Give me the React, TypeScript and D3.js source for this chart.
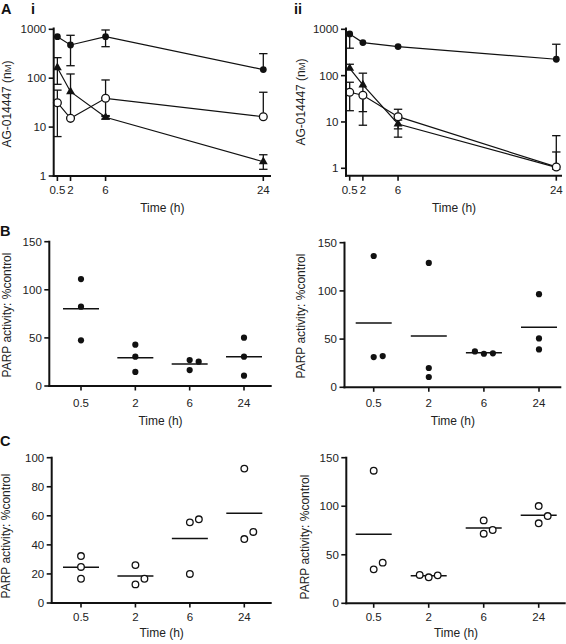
import React from 'react';
import * as d3 from 'd3';

const FONT = "'Liberation Sans', Arial, Helvetica, sans-serif";

// ---------- shared categories / ticks ----------
const times = [0.5, 2, 6, 24];
const timeLabels = ['0.5', '2', '6', '24'];
const logTicks = [1, 10, 100, 1000];
const logTickLabels = ['1', '10', '100', '1000'];

// ---------- Panel A(i): AG-014447 (nM), mean with error bars ----------
const aiFilled = [705, 478, 705, 150];
const aiFilledLo = [null, 180, 441, null];
const aiFilledHi = [null, 754, 968, 318];
const aiTriangle = [164, 53, 15.9, 1.96];
const aiTriangleLo = [75, 16, 14.6, 1.37];
const aiTriangleHi = [263, 122, 17.2, 2.72];
const aiOpen = [31.5, 15.1, 38.8, 16.3];
const aiOpenLo = [6.4, null, 16.5, null];
const aiOpenHi = [57, null, 92, 51.6];

// ---------- Panel A(ii) ----------
const aiiFilled = [795, 516, 423, 226];
const aiiFilledLo = [391, null, null, null];
const aiiFilledHi = [null, null, null, 476];
const aiiTriangle = [144, 63, 9.05, 1.05];
const aiiTriangleLo = [null, 8.5, 7.1, null];
const aiiTriangleHi = [176, 113, 11, 2.25];
const aiiOpen = [43.8, 37.7, 13, 1.07];
const aiiOpenLo = [17.5, 16.7, 4.7, null];
const aiiOpenHi = [72, null, 18.8, 5.06];

// ---------- Panel B(i): PARP activity %control (filled) ----------
const bi05 = [111.2, 82.5, 47.5];
const bi2 = [43, 30.5, 14.6];
const bi6 = [27, 25.3, 16.6];
const bi24 = [50.2, 30.5, 10.7];

// ---------- Panel B(ii) ----------
const bii05 = [136.2, 31.4, 32.4];
const bii2 = [129, 20, 10.7];
const bii6 = [34.8, 35.2, 37.2];
const bii24 = [96.6, 50.7, 39.3];

// ---------- Panel C(i): (open) ----------
const ci05 = [32.3, 24.8, 16.7];
const ci2 = [26.1, 12.8, 16.7];
const ci6 = [55.5, 57.6, 20];
const ci24 = [92.5, 44, 48.9];

// ---------- Panel C(ii) ----------
const cii05 = [136.6, 35, 41.9];
const cii2 = [26.8, 28.8, 29.2];
const cii6 = [85.4, 71.7, 75.5];
const cii24 = [100.2, 82.4, 89.9];

const ticksB = [0, 50, 100, 150];
const ticksCi = [0, 20, 40, 60, 80, 100];
const ticksCii = [0, 50, 100, 150];

type Marker = 'filled' | 'open' | 'triangle';
type Series = { values: number[]; lo: (number | null)[]; hi: (number | null)[]; marker: Marker };

const seriesAi: Series[] = [
  { values: aiFilled, lo: aiFilledLo, hi: aiFilledHi, marker: 'filled' },
  { values: aiTriangle, lo: aiTriangleLo, hi: aiTriangleHi, marker: 'triangle' },
  { values: aiOpen, lo: aiOpenLo, hi: aiOpenHi, marker: 'open' },
];
const seriesAii: Series[] = [
  { values: aiiFilled, lo: aiiFilledLo, hi: aiiFilledHi, marker: 'filled' },
  { values: aiiTriangle, lo: aiiTriangleLo, hi: aiiTriangleHi, marker: 'triangle' },
  { values: aiiOpen, lo: aiiOpenLo, hi: aiiOpenHi, marker: 'open' },
];

const TICK_FS = 11.5;
const LABEL_FS = 12;

function LogPanel(props: {
  left: number; right: number; top: number; bottom: number;
  x0: number; x24: number; y1: number; y1000: number;
  series: Series[]; tickBase: number; timeBase: number;
  ylabX: number; ylabY: number;
}) {
  const { left, right, top, bottom, x0, x24, y1, y1000, series } = props;
  const x = d3.scaleLinear().domain([0, 24]).range([x0, x24]);
  const y = d3.scaleLog().domain([1, 1000]).range([y1, y1000]);
  const line = d3.line<number>().x((_, i) => x(times[i])).y((v) => y(v));
  const tri = d3.symbol().type(d3.symbolTriangle).size(34)();
  const cap = 4.2;
  return (
    <g>
      {series.map((s, si) => (
        <path key={'l' + si} d={line(s.values) || ''} fill="none" stroke="#111" strokeWidth={1.2} />
      ))}
      {series.map((s, si) =>
        s.values.map((v, i) => {
          const lo = s.lo[i];
          const hi = s.hi[i];
          if (lo == null && hi == null) return null;
          const cx = x(times[i]);
          const ya = y(lo ?? v);
          const yb = y(hi ?? v);
          return (
            <g key={'e' + si + '-' + i} stroke="#111" strokeWidth={1.3}>
              <line x1={cx} x2={cx} y1={ya} y2={yb} />
              {lo != null && <line x1={cx - cap} x2={cx + cap} y1={ya} y2={ya} />}
              {hi != null && <line x1={cx - cap} x2={cx + cap} y1={yb} y2={yb} />}
            </g>
          );
        })
      )}
      {series.map((s, si) =>
        s.values.map((v, i) => {
          const cx = x(times[i]);
          const cy = y(v);
          if (s.marker === 'filled') return <circle key={'m' + si + i} cx={cx} cy={cy} r={3.4} fill="#111" />;
          if (s.marker === 'open')
            return <circle key={'m' + si + i} cx={cx} cy={cy} r={3.9} fill="#fff" stroke="#111" strokeWidth={1.3} />;
          return <path key={'m' + si + i} d={tri || ''} transform={`translate(${cx},${cy})`} fill="#111" />;
        })
      )}
      {/* axes */}
      <line x1={left} x2={left} y1={bottom + 1} y2={top} stroke="#111" strokeWidth={2} />
      <line x1={left - 1} x2={right} y1={bottom} y2={bottom} stroke="#111" strokeWidth={2} />
      {logTicks.map((t, i) => (
        <g key={'yt' + i}>
          <line x1={left - 5} x2={left} y1={y(t)} y2={y(t)} stroke="#111" strokeWidth={1.6} />
          <text x={left - 7.5} y={y(t) + 4} textAnchor="end" fontSize={TICK_FS} fontFamily={FONT} fill="#222">
            {logTickLabels[i]}
          </text>
        </g>
      ))}
      {times.map((t, i) => (
        <g key={'xt' + i}>
          <line x1={x(t)} x2={x(t)} y1={bottom} y2={bottom + 5} stroke="#111" strokeWidth={1.6} />
          <text x={x(t)} y={props.tickBase} textAnchor="middle" fontSize={TICK_FS} fontFamily={FONT} fill="#222">
            {timeLabels[i]}
          </text>
        </g>
      ))}
      <text x={(left + right) / 2} y={props.timeBase} textAnchor="middle" fontSize={LABEL_FS} fontFamily={FONT} fill="#222">
        Time (h)
      </text>
      <text
        transform={`translate(${props.ylabX},${props.ylabY}) rotate(-90)`}
        textAnchor="middle"
        fontSize={LABEL_FS}
        fontFamily={FONT}
        fill="#222"
      >
        AG-014447 (n<tspan fontSize={LABEL_FS * 0.78}>M</tspan>)
      </text>
    </g>
  );
}

function dodge(vals: number[], py: (v: number) => number, thr: number): number[] {
  const placed: { slot: number; p: number }[] = [];
  return vals.map((v) => {
    const p = py(v);
    for (const s of [0, 1, -1, 2, -2]) {
      if (!placed.some((q) => q.slot === s && Math.abs(q.p - p) < thr)) {
        placed.push({ slot: s, p });
        return s;
      }
    }
    return 0;
  });
}

function ScatterPanel(props: {
  left: number; right: number; y0: number; yMaxPx: number; yMax: number; ticks: number[];
  catFirst: number; catLast: number; groups: number[][]; open: boolean;
  tickBase: number; timeBase: number; ylabX: number; ylabY: number;
}) {
  const { left, right, y0, yMaxPx, yMax, ticks, groups, open } = props;
  const y = d3.scaleLinear().domain([0, yMax]).range([y0, yMaxPx]);
  const x = d3.scalePoint<string>().domain(timeLabels).range([props.catFirst, props.catLast]);
  const step = 9;
  const r = open ? 3.3 : 3.1;
  const thr = open ? 8 : 6.5;
  return (
    <g>
      {groups.map((g, gi) => {
        const cx = x(timeLabels[gi]) as number;
        const slots = dodge(g, y, thr);
        const m = d3.mean(g) as number;
        return (
          <g key={'g' + gi}>
            <line x1={cx - 18} x2={cx + 18} y1={y(m)} y2={y(m)} stroke="#111" strokeWidth={1.5} />
            {g.map((v, i) =>
              open ? (
                <circle key={i} cx={cx + slots[i] * step} cy={y(v)} r={r} fill="#fff" stroke="#111" strokeWidth={1.3} />
              ) : (
                <circle key={i} cx={cx + slots[i] * step} cy={y(v)} r={r} fill="#111" />
              )
            )}
          </g>
        );
      })}
      <line x1={left} x2={left} y1={y0 + 1} y2={yMaxPx - 1} stroke="#111" strokeWidth={2} />
      <line x1={left - 1} x2={right} y1={y0} y2={y0} stroke="#111" strokeWidth={2} />
      {ticks.map((t, i) => (
        <g key={'yt' + i}>
          <line x1={left - 5} x2={left} y1={y(t)} y2={y(t)} stroke="#111" strokeWidth={1.6} />
          <text x={left - 7.5} y={y(t) + 4} textAnchor="end" fontSize={TICK_FS} fontFamily={FONT} fill="#222">
            {String(t)}
          </text>
        </g>
      ))}
      {timeLabels.map((c, i) => (
        <g key={'xt' + i}>
          <line x1={x(c) as number} x2={x(c) as number} y1={y0} y2={y0 + 4.5} stroke="#111" strokeWidth={1.6} />
          <text x={x(c) as number} y={props.tickBase} textAnchor="middle" fontSize={TICK_FS} fontFamily={FONT} fill="#222">
            {c}
          </text>
        </g>
      ))}
      <text x={(left + right) / 2} y={props.timeBase} textAnchor="middle" fontSize={LABEL_FS} fontFamily={FONT} fill="#222">
        Time (h)
      </text>
      <text
        transform={`translate(${props.ylabX},${props.ylabY}) rotate(-90)`}
        textAnchor="middle"
        fontSize={LABEL_FS}
        fontFamily={FONT}
        fill="#222"
      >
        PARP activity: %control
      </text>
    </g>
  );
}

export default function App() {
  const letter = (t: string, x: number, y: number) => (
    <text x={x} y={y} fontSize={14.5} fontWeight="bold" fontFamily={FONT} fill="#111">
      {t}
    </text>
  );
  return (
    <svg
      width={566}
      height={644}
      viewBox="0 0 566 644"
      style={{ position: 'absolute', left: 0, top: 0, background: '#fff' }}
    >
      <rect width={566} height={644} fill="#fff" />
      {letter('A', 1, 13.5)}
      {letter('i', 31, 13.5)}
      {letter('ii', 294, 13.5)}
      {letter('B', 0, 235.5)}
      {letter('C', 0, 445.5)}

      <LogPanel
        left={53.7} right={271} top={27.5} bottom={176}
        x0={53} x24={263.3} y1={176} y1000={29.3}
        series={seriesAi} tickBase={194} timeBase={212}
        ylabX={10.5} ylabY={104}
      />
      <LogPanel
        left={346} right={562} top={27.5} bottom={175.7}
        x0={345.3} x24={556.3} y1={168.3} y1000={29.3}
        series={seriesAii} tickBase={194} timeBase={212}
        ylabX={304.5} ylabY={102}
      />

      <ScatterPanel
        left={49.3} right={271.7} y0={386} yMaxPx={241.7} yMax={150} ticks={ticksB}
        catFirst={81} catLast={244} groups={[bi05, bi2, bi6, bi24]} open={false}
        tickBase={406.5} timeBase={425} ylabX={10.5} ylabY={315}
      />
      <ScatterPanel
        left={344.5} right={561.3} y0={387.3} yMaxPx={242.7} yMax={150} ticks={ticksB}
        catFirst={373.7} catLast={539} groups={[bii05, bii2, bii6, bii24]} open={false}
        tickBase={406.5} timeBase={425} ylabX={304.5} ylabY={316}
      />

      <ScatterPanel
        left={51.7} right={271.7} y0={603} yMaxPx={457.7} yMax={100} ticks={ticksCi}
        catFirst={81} catLast={244.3} groups={[ci05, ci2, ci6, ci24]} open={true}
        tickBase={621} timeBase={637} ylabX={10} ylabY={536}
      />
      <ScatterPanel
        left={346.3} right={565.7} y0={603.3} yMaxPx={457.7} yMax={150} ticks={ticksCii}
        catFirst={373.7} catLast={538.7} groups={[cii05, cii2, cii6, cii24]} open={true}
        tickBase={621} timeBase={637} ylabX={309} ylabY={537}
      />
    </svg>
  );
}
